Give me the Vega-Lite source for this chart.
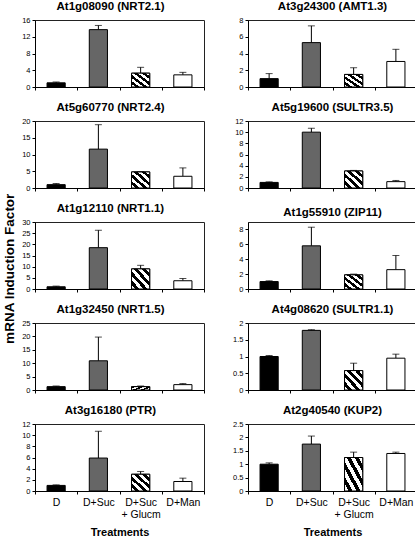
{
  "$schema": "https://vega.github.io/schema/vega-lite/v6.json",
  "background": "white",
  "padding": {"left": 2, "top": 0, "right": 2, "bottom": 0},
  "title": {"text": "mRNA Induction Factor", "orient": "left", "anchor": "middle", "fontSize": 13.5, "fontWeight": "bold", "font": "Liberation Sans", "color": "black", "offset": 5},
  "data": {"values": [
    {"g": "At1g08090 (NRT2.1)", "t": "D", "v": 1.0, "e": 1.2},
    {"g": "At1g08090 (NRT2.1)", "t": "D+Suc", "v": 13.7, "e": 14.7},
    {"g": "At1g08090 (NRT2.1)", "t": "D+Suc + Glucm", "v": 3.3, "e": 4.7},
    {"g": "At1g08090 (NRT2.1)", "t": "D+Man", "v": 2.9, "e": 3.5},
    {"g": "At3g24300 (AMT1.3)", "t": "D", "v": 1.0, "e": 1.6},
    {"g": "At3g24300 (AMT1.3)", "t": "D+Suc", "v": 5.3, "e": 7.3},
    {"g": "At3g24300 (AMT1.3)", "t": "D+Suc + Glucm", "v": 1.5, "e": 2.3},
    {"g": "At3g24300 (AMT1.3)", "t": "D+Man", "v": 3.05, "e": 4.5},
    {"g": "At5g60770 (NRT2.4)", "t": "D", "v": 1.0, "e": 1.35},
    {"g": "At5g60770 (NRT2.4)", "t": "D+Suc", "v": 11.6, "e": 18.9},
    {"g": "At5g60770 (NRT2.4)", "t": "D+Suc + Glucm", "v": 4.8, "e": 4.85},
    {"g": "At5g60770 (NRT2.4)", "t": "D+Man", "v": 3.5, "e": 6.0},
    {"g": "At5g19600 (SULTR3.5)", "t": "D", "v": 1.0, "e": 1.1},
    {"g": "At5g19600 (SULTR3.5)", "t": "D+Suc", "v": 10.0, "e": 10.7},
    {"g": "At5g19600 (SULTR3.5)", "t": "D+Suc + Glucm", "v": 3.05, "e": 3.15},
    {"g": "At5g19600 (SULTR3.5)", "t": "D+Man", "v": 1.14, "e": 1.35},
    {"g": "At1g12110 (NRT1.1)", "t": "D", "v": 1.0, "e": 1.3},
    {"g": "At1g12110 (NRT1.1)", "t": "D+Suc", "v": 18.5, "e": 26.3},
    {"g": "At1g12110 (NRT1.1)", "t": "D+Suc + Glucm", "v": 9.0, "e": 10.6},
    {"g": "At1g12110 (NRT1.1)", "t": "D+Man", "v": 3.7, "e": 4.7},
    {"g": "At1g55910 (ZIP11)", "t": "D", "v": 1.0, "e": 1.1},
    {"g": "At1g55910 (ZIP11)", "t": "D+Suc", "v": 5.8, "e": 8.3},
    {"g": "At1g55910 (ZIP11)", "t": "D+Suc + Glucm", "v": 1.9, "e": 2.0},
    {"g": "At1g55910 (ZIP11)", "t": "D+Man", "v": 2.6, "e": 4.5},
    {"g": "At1g32450 (NRT1.5)", "t": "D", "v": 1.25, "e": 1.5},
    {"g": "At1g32450 (NRT1.5)", "t": "D+Suc", "v": 10.9, "e": 19.75},
    {"g": "At1g32450 (NRT1.5)", "t": "D+Suc + Glucm", "v": 1.25, "e": 1.5},
    {"g": "At1g32450 (NRT1.5)", "t": "D+Man", "v": 2.0, "e": 2.4},
    {"g": "At4g08620 (SULTR1.1)", "t": "D", "v": 1.0, "e": 1.03},
    {"g": "At4g08620 (SULTR1.1)", "t": "D+Suc", "v": 1.78, "e": 1.8},
    {"g": "At4g08620 (SULTR1.1)", "t": "D+Suc + Glucm", "v": 0.58, "e": 0.8},
    {"g": "At4g08620 (SULTR1.1)", "t": "D+Man", "v": 0.95, "e": 1.07},
    {"g": "At3g16180 (PTR)", "t": "D", "v": 1.0, "e": 1.1},
    {"g": "At3g16180 (PTR)", "t": "D+Suc", "v": 5.9, "e": 10.7},
    {"g": "At3g16180 (PTR)", "t": "D+Suc + Glucm", "v": 3.0, "e": 3.5},
    {"g": "At3g16180 (PTR)", "t": "D+Man", "v": 1.7, "e": 2.3},
    {"g": "At2g40540 (KUP2)", "t": "D", "v": 1.0, "e": 1.05},
    {"g": "At2g40540 (KUP2)", "t": "D+Suc", "v": 1.75, "e": 2.05},
    {"g": "At2g40540 (KUP2)", "t": "D+Suc + Glucm", "v": 1.25, "e": 1.45},
    {"g": "At2g40540 (KUP2)", "t": "D+Man", "v": 1.4, "e": 1.45}
  ]},
  "columns": 2,
  "spacing": {"row": 10, "column": 27},
  "concat": [
    {"title": {"text": "At1g08090 (NRT2.1)", "dx": -9}, "width": 169, "height": 67,
     "transform": [{"filter": "datum.g === 'At1g08090 (NRT2.1)'"}],
     "encoding": {"x": {"field": "t", "type": "nominal", "sort": ["D", "D+Suc", "D+Suc + Glucm", "D+Man"], "scale": {"paddingInner": 0, "paddingOuter": 0}, "axis": {"labels": false, "title": null}},
       "y": {"field": "v", "type": "quantitative", "scale": {"domain": [0, 16], "nice": false, "zero": true}, "axis": {"values": [0, 4, 8, 12, 16]}, "title": null}},
     "layer": [
       {"mark": {"type": "rule", "color": "black", "strokeWidth": 1}, "encoding": {"y2": {"field": "e"}}},
       {"mark": {"type": "bar", "width": {"band": 0.43}, "stroke": "black", "strokeWidth": 1}, "encoding": {"fill": {"condition": [{"test": "datum.t === 'D'", "value": "#000000"}, {"test": "datum.t === 'D+Suc'", "value": "#666666"}], "value": "#ffffff"}}},
       {"transform": [{"filter": "datum.t === 'D+Suc + Glucm'"}], "mark": {"type": "bar", "width": {"band": 0.43}, "stroke": "black", "strokeWidth": 1, "fill": {"gradient": "linear", "x1": 0, "y1": 1, "x2": 1, "y2": 0, "stops": [{"offset": 0, "color": "white"}, {"offset": 0.111, "color": "white"}, {"offset": 0.111, "color": "black"}, {"offset": 0.222, "color": "black"}, {"offset": 0.222, "color": "white"}, {"offset": 0.333, "color": "white"}, {"offset": 0.333, "color": "black"}, {"offset": 0.444, "color": "black"}, {"offset": 0.444, "color": "white"}, {"offset": 0.556, "color": "white"}, {"offset": 0.556, "color": "black"}, {"offset": 0.667, "color": "black"}, {"offset": 0.667, "color": "white"}, {"offset": 0.778, "color": "white"}, {"offset": 0.778, "color": "black"}, {"offset": 0.889, "color": "black"}, {"offset": 0.889, "color": "white"}, {"offset": 1, "color": "white"}]}}},
       {"mark": {"type": "tick", "color": "black", "size": 7, "thickness": 1}, "encoding": {"y": {"field": "e", "type": "quantitative", "scale": {"domain": [0, 16], "nice": false, "zero": true}, "axis": {"values": [0, 4, 8, 12, 16]}, "title": null}}}
     ]},
    {"title": {"text": "At3g24300 (AMT1.3)"}, "width": 169, "height": 67,
     "transform": [{"filter": "datum.g === 'At3g24300 (AMT1.3)'"}],
     "encoding": {"x": {"field": "t", "type": "nominal", "sort": ["D", "D+Suc", "D+Suc + Glucm", "D+Man"], "scale": {"paddingInner": 0, "paddingOuter": 0}, "axis": {"labels": false, "title": null}},
       "y": {"field": "v", "type": "quantitative", "scale": {"domain": [0, 8], "nice": false, "zero": true}, "axis": {"values": [0, 2, 4, 6, 8]}, "title": null}},
     "layer": [
       {"mark": {"type": "rule", "color": "black", "strokeWidth": 1}, "encoding": {"y2": {"field": "e"}}},
       {"mark": {"type": "bar", "width": {"band": 0.43}, "stroke": "black", "strokeWidth": 1}, "encoding": {"fill": {"condition": [{"test": "datum.t === 'D'", "value": "#000000"}, {"test": "datum.t === 'D+Suc'", "value": "#666666"}], "value": "#ffffff"}}},
       {"transform": [{"filter": "datum.t === 'D+Suc + Glucm'"}], "mark": {"type": "bar", "width": {"band": 0.43}, "stroke": "black", "strokeWidth": 1, "fill": {"gradient": "linear", "x1": 0, "y1": 1, "x2": 1, "y2": 0, "stops": [{"offset": 0, "color": "white"}, {"offset": 0.111, "color": "white"}, {"offset": 0.111, "color": "black"}, {"offset": 0.222, "color": "black"}, {"offset": 0.222, "color": "white"}, {"offset": 0.333, "color": "white"}, {"offset": 0.333, "color": "black"}, {"offset": 0.444, "color": "black"}, {"offset": 0.444, "color": "white"}, {"offset": 0.556, "color": "white"}, {"offset": 0.556, "color": "black"}, {"offset": 0.667, "color": "black"}, {"offset": 0.667, "color": "white"}, {"offset": 0.778, "color": "white"}, {"offset": 0.778, "color": "black"}, {"offset": 0.889, "color": "black"}, {"offset": 0.889, "color": "white"}, {"offset": 1, "color": "white"}]}}},
       {"mark": {"type": "tick", "color": "black", "size": 7, "thickness": 1}, "encoding": {"y": {"field": "e", "type": "quantitative", "scale": {"domain": [0, 8], "nice": false, "zero": true}, "axis": {"values": [0, 2, 4, 6, 8]}, "title": null}}}
     ]},
    {"title": {"text": "At5g60770 (NRT2.4)", "dx": -9}, "width": 169, "height": 67,
     "transform": [{"filter": "datum.g === 'At5g60770 (NRT2.4)'"}],
     "encoding": {"x": {"field": "t", "type": "nominal", "sort": ["D", "D+Suc", "D+Suc + Glucm", "D+Man"], "scale": {"paddingInner": 0, "paddingOuter": 0}, "axis": {"labels": false, "title": null}},
       "y": {"field": "v", "type": "quantitative", "scale": {"domain": [0, 20], "nice": false, "zero": true}, "axis": {"values": [0, 5, 10, 15, 20]}, "title": null}},
     "layer": [
       {"mark": {"type": "rule", "color": "black", "strokeWidth": 1}, "encoding": {"y2": {"field": "e"}}},
       {"mark": {"type": "bar", "width": {"band": 0.43}, "stroke": "black", "strokeWidth": 1}, "encoding": {"fill": {"condition": [{"test": "datum.t === 'D'", "value": "#000000"}, {"test": "datum.t === 'D+Suc'", "value": "#666666"}], "value": "#ffffff"}}},
       {"transform": [{"filter": "datum.t === 'D+Suc + Glucm'"}], "mark": {"type": "bar", "width": {"band": 0.43}, "stroke": "black", "strokeWidth": 1, "fill": {"gradient": "linear", "x1": 0, "y1": 1, "x2": 1, "y2": 0, "stops": [{"offset": 0, "color": "white"}, {"offset": 0.111, "color": "white"}, {"offset": 0.111, "color": "black"}, {"offset": 0.222, "color": "black"}, {"offset": 0.222, "color": "white"}, {"offset": 0.333, "color": "white"}, {"offset": 0.333, "color": "black"}, {"offset": 0.444, "color": "black"}, {"offset": 0.444, "color": "white"}, {"offset": 0.556, "color": "white"}, {"offset": 0.556, "color": "black"}, {"offset": 0.667, "color": "black"}, {"offset": 0.667, "color": "white"}, {"offset": 0.778, "color": "white"}, {"offset": 0.778, "color": "black"}, {"offset": 0.889, "color": "black"}, {"offset": 0.889, "color": "white"}, {"offset": 1, "color": "white"}]}}},
       {"mark": {"type": "tick", "color": "black", "size": 7, "thickness": 1}, "encoding": {"y": {"field": "e", "type": "quantitative", "scale": {"domain": [0, 20], "nice": false, "zero": true}, "axis": {"values": [0, 5, 10, 15, 20]}, "title": null}}}
     ]},
    {"title": {"text": "At5g19600 (SULTR3.5)"}, "width": 169, "height": 67,
     "transform": [{"filter": "datum.g === 'At5g19600 (SULTR3.5)'"}],
     "encoding": {"x": {"field": "t", "type": "nominal", "sort": ["D", "D+Suc", "D+Suc + Glucm", "D+Man"], "scale": {"paddingInner": 0, "paddingOuter": 0}, "axis": {"labels": false, "title": null}},
       "y": {"field": "v", "type": "quantitative", "scale": {"domain": [0, 12], "nice": false, "zero": true}, "axis": {"values": [0, 2, 4, 6, 8, 10, 12]}, "title": null}},
     "layer": [
       {"mark": {"type": "rule", "color": "black", "strokeWidth": 1}, "encoding": {"y2": {"field": "e"}}},
       {"mark": {"type": "bar", "width": {"band": 0.43}, "stroke": "black", "strokeWidth": 1}, "encoding": {"fill": {"condition": [{"test": "datum.t === 'D'", "value": "#000000"}, {"test": "datum.t === 'D+Suc'", "value": "#666666"}], "value": "#ffffff"}}},
       {"transform": [{"filter": "datum.t === 'D+Suc + Glucm'"}], "mark": {"type": "bar", "width": {"band": 0.43}, "stroke": "black", "strokeWidth": 1, "fill": {"gradient": "linear", "x1": 0, "y1": 1, "x2": 1, "y2": 0, "stops": [{"offset": 0, "color": "white"}, {"offset": 0.111, "color": "white"}, {"offset": 0.111, "color": "black"}, {"offset": 0.222, "color": "black"}, {"offset": 0.222, "color": "white"}, {"offset": 0.333, "color": "white"}, {"offset": 0.333, "color": "black"}, {"offset": 0.444, "color": "black"}, {"offset": 0.444, "color": "white"}, {"offset": 0.556, "color": "white"}, {"offset": 0.556, "color": "black"}, {"offset": 0.667, "color": "black"}, {"offset": 0.667, "color": "white"}, {"offset": 0.778, "color": "white"}, {"offset": 0.778, "color": "black"}, {"offset": 0.889, "color": "black"}, {"offset": 0.889, "color": "white"}, {"offset": 1, "color": "white"}]}}},
       {"mark": {"type": "tick", "color": "black", "size": 7, "thickness": 1}, "encoding": {"y": {"field": "e", "type": "quantitative", "scale": {"domain": [0, 12], "nice": false, "zero": true}, "axis": {"values": [0, 2, 4, 6, 8, 10, 12]}, "title": null}}}
     ]},
    {"title": {"text": "At1g12110 (NRT1.1)", "dx": -9}, "width": 169, "height": 67,
     "transform": [{"filter": "datum.g === 'At1g12110 (NRT1.1)'"}],
     "encoding": {"x": {"field": "t", "type": "nominal", "sort": ["D", "D+Suc", "D+Suc + Glucm", "D+Man"], "scale": {"paddingInner": 0, "paddingOuter": 0}, "axis": {"labels": false, "title": null}},
       "y": {"field": "v", "type": "quantitative", "scale": {"domain": [0, 30], "nice": false, "zero": true}, "axis": {"values": [0, 5, 10, 15, 20, 25, 30]}, "title": null}},
     "layer": [
       {"mark": {"type": "rule", "color": "black", "strokeWidth": 1}, "encoding": {"y2": {"field": "e"}}},
       {"mark": {"type": "bar", "width": {"band": 0.43}, "stroke": "black", "strokeWidth": 1}, "encoding": {"fill": {"condition": [{"test": "datum.t === 'D'", "value": "#000000"}, {"test": "datum.t === 'D+Suc'", "value": "#666666"}], "value": "#ffffff"}}},
       {"transform": [{"filter": "datum.t === 'D+Suc + Glucm'"}], "mark": {"type": "bar", "width": {"band": 0.43}, "stroke": "black", "strokeWidth": 1, "fill": {"gradient": "linear", "x1": 0, "y1": 1, "x2": 1, "y2": 0, "stops": [{"offset": 0, "color": "white"}, {"offset": 0.111, "color": "white"}, {"offset": 0.111, "color": "black"}, {"offset": 0.222, "color": "black"}, {"offset": 0.222, "color": "white"}, {"offset": 0.333, "color": "white"}, {"offset": 0.333, "color": "black"}, {"offset": 0.444, "color": "black"}, {"offset": 0.444, "color": "white"}, {"offset": 0.556, "color": "white"}, {"offset": 0.556, "color": "black"}, {"offset": 0.667, "color": "black"}, {"offset": 0.667, "color": "white"}, {"offset": 0.778, "color": "white"}, {"offset": 0.778, "color": "black"}, {"offset": 0.889, "color": "black"}, {"offset": 0.889, "color": "white"}, {"offset": 1, "color": "white"}]}}},
       {"mark": {"type": "tick", "color": "black", "size": 7, "thickness": 1}, "encoding": {"y": {"field": "e", "type": "quantitative", "scale": {"domain": [0, 30], "nice": false, "zero": true}, "axis": {"values": [0, 5, 10, 15, 20, 25, 30]}, "title": null}}}
     ]},
    {"title": {"text": "At1g55910 (ZIP11)"}, "width": 169, "height": 67,
     "transform": [{"filter": "datum.g === 'At1g55910 (ZIP11)'"}],
     "encoding": {"x": {"field": "t", "type": "nominal", "sort": ["D", "D+Suc", "D+Suc + Glucm", "D+Man"], "scale": {"paddingInner": 0, "paddingOuter": 0}, "axis": {"labels": false, "title": null}},
       "y": {"field": "v", "type": "quantitative", "scale": {"domain": [0, 9], "nice": false, "zero": true}, "axis": {"values": [0, 2, 4, 6, 8]}, "title": null}},
     "layer": [
       {"mark": {"type": "rule", "color": "black", "strokeWidth": 1}, "encoding": {"y2": {"field": "e"}}},
       {"mark": {"type": "bar", "width": {"band": 0.43}, "stroke": "black", "strokeWidth": 1}, "encoding": {"fill": {"condition": [{"test": "datum.t === 'D'", "value": "#000000"}, {"test": "datum.t === 'D+Suc'", "value": "#666666"}], "value": "#ffffff"}}},
       {"transform": [{"filter": "datum.t === 'D+Suc + Glucm'"}], "mark": {"type": "bar", "width": {"band": 0.43}, "stroke": "black", "strokeWidth": 1, "fill": {"gradient": "linear", "x1": 0, "y1": 1, "x2": 1, "y2": 0, "stops": [{"offset": 0, "color": "white"}, {"offset": 0.111, "color": "white"}, {"offset": 0.111, "color": "black"}, {"offset": 0.222, "color": "black"}, {"offset": 0.222, "color": "white"}, {"offset": 0.333, "color": "white"}, {"offset": 0.333, "color": "black"}, {"offset": 0.444, "color": "black"}, {"offset": 0.444, "color": "white"}, {"offset": 0.556, "color": "white"}, {"offset": 0.556, "color": "black"}, {"offset": 0.667, "color": "black"}, {"offset": 0.667, "color": "white"}, {"offset": 0.778, "color": "white"}, {"offset": 0.778, "color": "black"}, {"offset": 0.889, "color": "black"}, {"offset": 0.889, "color": "white"}, {"offset": 1, "color": "white"}]}}},
       {"mark": {"type": "tick", "color": "black", "size": 7, "thickness": 1}, "encoding": {"y": {"field": "e", "type": "quantitative", "scale": {"domain": [0, 9], "nice": false, "zero": true}, "axis": {"values": [0, 2, 4, 6, 8]}, "title": null}}}
     ]},
    {"title": {"text": "At1g32450 (NRT1.5)", "dx": -9}, "width": 169, "height": 67,
     "transform": [{"filter": "datum.g === 'At1g32450 (NRT1.5)'"}],
     "encoding": {"x": {"field": "t", "type": "nominal", "sort": ["D", "D+Suc", "D+Suc + Glucm", "D+Man"], "scale": {"paddingInner": 0, "paddingOuter": 0}, "axis": {"labels": false, "title": null}},
       "y": {"field": "v", "type": "quantitative", "scale": {"domain": [0, 25], "nice": false, "zero": true}, "axis": {"values": [0, 5, 10, 15, 20, 25]}, "title": null}},
     "layer": [
       {"mark": {"type": "rule", "color": "black", "strokeWidth": 1}, "encoding": {"y2": {"field": "e"}}},
       {"mark": {"type": "bar", "width": {"band": 0.43}, "stroke": "black", "strokeWidth": 1}, "encoding": {"fill": {"condition": [{"test": "datum.t === 'D'", "value": "#000000"}, {"test": "datum.t === 'D+Suc'", "value": "#666666"}], "value": "#ffffff"}}},
       {"transform": [{"filter": "datum.t === 'D+Suc + Glucm'"}], "mark": {"type": "bar", "width": {"band": 0.43}, "stroke": "black", "strokeWidth": 1, "fill": {"gradient": "linear", "x1": 0, "y1": 1, "x2": 1, "y2": 0, "stops": [{"offset": 0, "color": "white"}, {"offset": 0.111, "color": "white"}, {"offset": 0.111, "color": "black"}, {"offset": 0.222, "color": "black"}, {"offset": 0.222, "color": "white"}, {"offset": 0.333, "color": "white"}, {"offset": 0.333, "color": "black"}, {"offset": 0.444, "color": "black"}, {"offset": 0.444, "color": "white"}, {"offset": 0.556, "color": "white"}, {"offset": 0.556, "color": "black"}, {"offset": 0.667, "color": "black"}, {"offset": 0.667, "color": "white"}, {"offset": 0.778, "color": "white"}, {"offset": 0.778, "color": "black"}, {"offset": 0.889, "color": "black"}, {"offset": 0.889, "color": "white"}, {"offset": 1, "color": "white"}]}}},
       {"mark": {"type": "tick", "color": "black", "size": 7, "thickness": 1}, "encoding": {"y": {"field": "e", "type": "quantitative", "scale": {"domain": [0, 25], "nice": false, "zero": true}, "axis": {"values": [0, 5, 10, 15, 20, 25]}, "title": null}}}
     ]},
    {"title": {"text": "At4g08620 (SULTR1.1)"}, "width": 169, "height": 67,
     "transform": [{"filter": "datum.g === 'At4g08620 (SULTR1.1)'"}],
     "encoding": {"x": {"field": "t", "type": "nominal", "sort": ["D", "D+Suc", "D+Suc + Glucm", "D+Man"], "scale": {"paddingInner": 0, "paddingOuter": 0}, "axis": {"labels": false, "title": null}},
       "y": {"field": "v", "type": "quantitative", "scale": {"domain": [0, 2], "nice": false, "zero": true}, "axis": {"values": [0, 0.5, 1, 1.5, 2]}, "title": null}},
     "layer": [
       {"mark": {"type": "rule", "color": "black", "strokeWidth": 1}, "encoding": {"y2": {"field": "e"}}},
       {"mark": {"type": "bar", "width": {"band": 0.43}, "stroke": "black", "strokeWidth": 1}, "encoding": {"fill": {"condition": [{"test": "datum.t === 'D'", "value": "#000000"}, {"test": "datum.t === 'D+Suc'", "value": "#666666"}], "value": "#ffffff"}}},
       {"transform": [{"filter": "datum.t === 'D+Suc + Glucm'"}], "mark": {"type": "bar", "width": {"band": 0.43}, "stroke": "black", "strokeWidth": 1, "fill": {"gradient": "linear", "x1": 0, "y1": 1, "x2": 1, "y2": 0, "stops": [{"offset": 0, "color": "white"}, {"offset": 0.111, "color": "white"}, {"offset": 0.111, "color": "black"}, {"offset": 0.222, "color": "black"}, {"offset": 0.222, "color": "white"}, {"offset": 0.333, "color": "white"}, {"offset": 0.333, "color": "black"}, {"offset": 0.444, "color": "black"}, {"offset": 0.444, "color": "white"}, {"offset": 0.556, "color": "white"}, {"offset": 0.556, "color": "black"}, {"offset": 0.667, "color": "black"}, {"offset": 0.667, "color": "white"}, {"offset": 0.778, "color": "white"}, {"offset": 0.778, "color": "black"}, {"offset": 0.889, "color": "black"}, {"offset": 0.889, "color": "white"}, {"offset": 1, "color": "white"}]}}},
       {"mark": {"type": "tick", "color": "black", "size": 7, "thickness": 1}, "encoding": {"y": {"field": "e", "type": "quantitative", "scale": {"domain": [0, 2], "nice": false, "zero": true}, "axis": {"values": [0, 0.5, 1, 1.5, 2]}, "title": null}}}
     ]},
    {"title": {"text": "At3g16180 (PTR)", "dx": -9}, "width": 169, "height": 67,
     "transform": [{"filter": "datum.g === 'At3g16180 (PTR)'"}],
     "encoding": {"x": {"field": "t", "type": "nominal", "sort": ["D", "D+Suc", "D+Suc + Glucm", "D+Man"], "scale": {"paddingInner": 0, "paddingOuter": 0}, "axis": {"labels": true, "title": "Treatments", "labelExpr": "datum.value === 'D+Suc + Glucm' ? ['D+Suc', '+ Glucm'] : datum.label"}},
       "y": {"field": "v", "type": "quantitative", "scale": {"domain": [0, 12], "nice": false, "zero": true}, "axis": {"values": [0, 2, 4, 6, 8, 10, 12]}, "title": null}},
     "layer": [
       {"mark": {"type": "rule", "color": "black", "strokeWidth": 1}, "encoding": {"y2": {"field": "e"}}},
       {"mark": {"type": "bar", "width": {"band": 0.43}, "stroke": "black", "strokeWidth": 1}, "encoding": {"fill": {"condition": [{"test": "datum.t === 'D'", "value": "#000000"}, {"test": "datum.t === 'D+Suc'", "value": "#666666"}], "value": "#ffffff"}}},
       {"transform": [{"filter": "datum.t === 'D+Suc + Glucm'"}], "mark": {"type": "bar", "width": {"band": 0.43}, "stroke": "black", "strokeWidth": 1, "fill": {"gradient": "linear", "x1": 0, "y1": 1, "x2": 1, "y2": 0, "stops": [{"offset": 0, "color": "white"}, {"offset": 0.111, "color": "white"}, {"offset": 0.111, "color": "black"}, {"offset": 0.222, "color": "black"}, {"offset": 0.222, "color": "white"}, {"offset": 0.333, "color": "white"}, {"offset": 0.333, "color": "black"}, {"offset": 0.444, "color": "black"}, {"offset": 0.444, "color": "white"}, {"offset": 0.556, "color": "white"}, {"offset": 0.556, "color": "black"}, {"offset": 0.667, "color": "black"}, {"offset": 0.667, "color": "white"}, {"offset": 0.778, "color": "white"}, {"offset": 0.778, "color": "black"}, {"offset": 0.889, "color": "black"}, {"offset": 0.889, "color": "white"}, {"offset": 1, "color": "white"}]}}},
       {"mark": {"type": "tick", "color": "black", "size": 7, "thickness": 1}, "encoding": {"y": {"field": "e", "type": "quantitative", "scale": {"domain": [0, 12], "nice": false, "zero": true}, "axis": {"values": [0, 2, 4, 6, 8, 10, 12]}, "title": null}}}
     ]},
    {"title": {"text": "At2g40540 (KUP2)"}, "width": 169, "height": 67,
     "transform": [{"filter": "datum.g === 'At2g40540 (KUP2)'"}],
     "encoding": {"x": {"field": "t", "type": "nominal", "sort": ["D", "D+Suc", "D+Suc + Glucm", "D+Man"], "scale": {"paddingInner": 0, "paddingOuter": 0}, "axis": {"labels": true, "title": "Treatments", "labelExpr": "datum.value === 'D+Suc + Glucm' ? ['D+Suc', '+ Glucm'] : datum.label"}},
       "y": {"field": "v", "type": "quantitative", "scale": {"domain": [0, 2.5], "nice": false, "zero": true}, "axis": {"values": [0, 0.5, 1, 1.5, 2, 2.5]}, "title": null}},
     "layer": [
       {"mark": {"type": "rule", "color": "black", "strokeWidth": 1}, "encoding": {"y2": {"field": "e"}}},
       {"mark": {"type": "bar", "width": {"band": 0.43}, "stroke": "black", "strokeWidth": 1}, "encoding": {"fill": {"condition": [{"test": "datum.t === 'D'", "value": "#000000"}, {"test": "datum.t === 'D+Suc'", "value": "#666666"}], "value": "#ffffff"}}},
       {"transform": [{"filter": "datum.t === 'D+Suc + Glucm'"}], "mark": {"type": "bar", "width": {"band": 0.43}, "stroke": "black", "strokeWidth": 1, "fill": {"gradient": "linear", "x1": 0, "y1": 1, "x2": 1, "y2": 0, "stops": [{"offset": 0, "color": "white"}, {"offset": 0.111, "color": "white"}, {"offset": 0.111, "color": "black"}, {"offset": 0.222, "color": "black"}, {"offset": 0.222, "color": "white"}, {"offset": 0.333, "color": "white"}, {"offset": 0.333, "color": "black"}, {"offset": 0.444, "color": "black"}, {"offset": 0.444, "color": "white"}, {"offset": 0.556, "color": "white"}, {"offset": 0.556, "color": "black"}, {"offset": 0.667, "color": "black"}, {"offset": 0.667, "color": "white"}, {"offset": 0.778, "color": "white"}, {"offset": 0.778, "color": "black"}, {"offset": 0.889, "color": "black"}, {"offset": 0.889, "color": "white"}, {"offset": 1, "color": "white"}]}}},
       {"mark": {"type": "tick", "color": "black", "size": 7, "thickness": 1}, "encoding": {"y": {"field": "e", "type": "quantitative", "scale": {"domain": [0, 2.5], "nice": false, "zero": true}, "axis": {"values": [0, 0.5, 1, 1.5, 2, 2.5]}, "title": null}}}
     ]}
  ],
  "config": {
    "font": "Liberation Sans",
    "view": {"stroke": "#222222", "strokeWidth": 1},
    "title": {"fontSize": 11.5, "fontWeight": "bold", "font": "Liberation Sans", "anchor": "middle", "offset": 4, "color": "black"},
    "axis": {"domainColor": "black", "tickColor": "black", "labelColor": "black", "titleColor": "black", "grid": false, "tickSize": 3, "labelFont": "Liberation Sans", "titleFont": "Liberation Sans"},
    "axisY": {"labelFontSize": 7.5, "labelPadding": 2, "labelFlush": false, "labelOverlap": false, "format": "~g"},
    "axisX": {"tickBand": "extent", "labelAngle": 0, "labelFontSize": 10.5, "labelPadding": 3, "labelLineHeight": 12.5, "titleFontSize": 11, "titleFontWeight": "bold", "titlePadding": 6, "labelBaseline": "top"}
  }
}
